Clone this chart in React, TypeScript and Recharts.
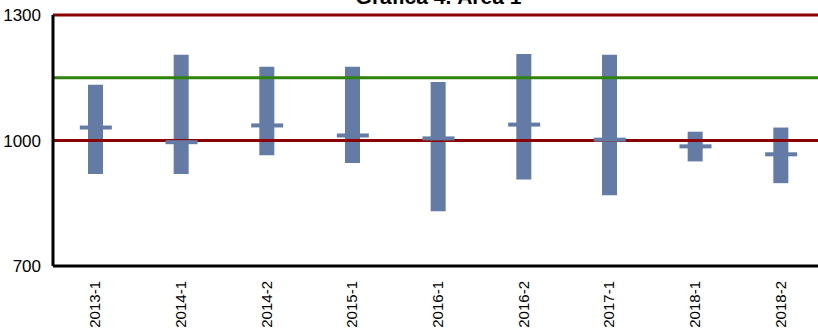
import { ComposedChart, Bar, Scatter, XAxis, YAxis, ReferenceLine } from "recharts";

const categories = ["2013-1", "2014-1", "2014-2", "2015-1", "2016-1", "2016-2", "2017-1", "2018-1", "2018-2"];
const lows = [920, 920, 965, 946, 831, 907, 869, 950, 898];
const highs = [1133, 1205, 1176, 1176, 1140, 1207, 1205, 1021, 1031];
const means = [1031, 996, 1036, 1012, 1005, 1038, 1002, 986, 967];
const yTicks = [700, 1000, 1300];
const redLines = [1000, 1300];
const greenLine = 1150;

const BAR_COLOR = "#647ca5";

const data = categories.map((name, i) => ({
  name,
  range: [lows[i], highs[i]],
  mean: means[i],
}));

const MeanMark = (props: any) => {
  const { cx, cy } = props;
  if (cx == null || cy == null) return null;
  return <rect x={cx - 16} y={cy - 2} width={32} height={4} fill={BAR_COLOR} />;
};

const XTick = (props: any) => {
  const { x, y, payload } = props;
  const ty = y + 7;
  return (
    <text
      x={x - 1}
      y={ty}
      transform={`rotate(-90, ${x - 1}, ${ty})`}
      textAnchor="end"
      dy="0.36em"
      fontSize={15}
      fill="#000"
      fontFamily="'Liberation Sans', Arial, sans-serif"
    >
      {payload.value}
    </text>
  );
};

const App = () => {
  return (
    <div style={{ position: "absolute", left: 0, top: 0, width: 830, height: 333, fontFamily: "'Liberation Sans', Arial, sans-serif" }}>
      <div
        style={{
          position: "absolute",
          left: 53,
          width: 771,
          top: -15,
          textAlign: "center",
          fontWeight: "bold",
          fontSize: 21,
          lineHeight: "24px",
          zIndex: 2,
        }}
      >
        Gráfica 4. Área 1
      </div>
      <ComposedChart width={830} height={333} data={data} margin={{ top: 15, right: 6, bottom: 0, left: 0 }} barCategoryGap={0}>
        <XAxis
          dataKey="name"
          height={67}
          axisLine={{ stroke: "#000", strokeWidth: 3 }}
          tickLine={false}
          tick={<XTick />}
          interval={0}
        />
        <YAxis
          width={53}
          domain={[700, 1300]}
          ticks={yTicks}
          axisLine={{ stroke: "#000", strokeWidth: 3 }}
          tickLine={false}
          tick={{ fill: "#000", fontSize: 17 }}
          tickMargin={6}
        />
        {redLines.map((v) => (
          <ReferenceLine key={v} y={v} stroke="#8b0000" strokeWidth={3} />
        ))}
        <Bar dataKey="range" fill={BAR_COLOR} barSize={15} isAnimationActive={false} />
        <Scatter dataKey="mean" shape={<MeanMark />} isAnimationActive={false} />
        <ReferenceLine y={greenLine} stroke="#2e820e" strokeWidth={3} />
      </ComposedChart>
    </div>
  );
};

export default App;
